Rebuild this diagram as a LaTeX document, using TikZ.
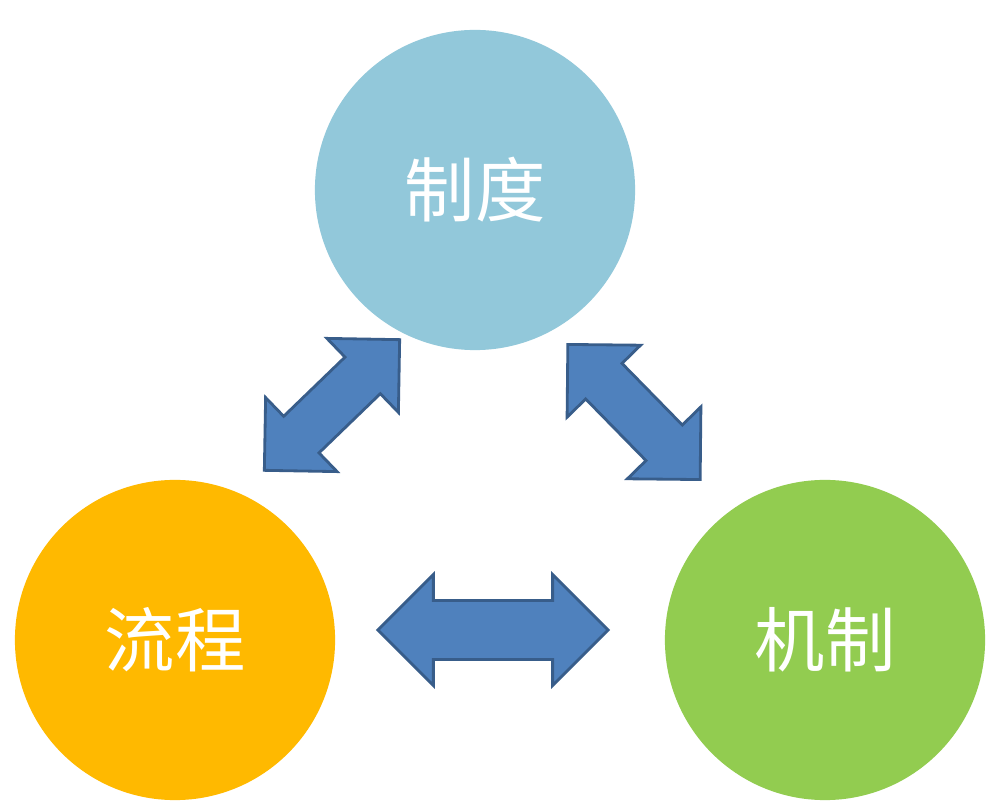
\documentclass[tikz,border=0pt]{standalone}
\usepackage{fontspec}
\newfontfamily\cjk{Noto Sans CJK SC}
\usetikzlibrary{shapes.arrows}
\begin{document}
\begin{tikzpicture}[x=0.01cm,y=-0.01cm]
    \definecolor{zd_blue}{RGB}{146,200,218}
    \definecolor{lc_orange}{RGB}{255,185,0}
    \definecolor{jz_green}{RGB}{146,204,80}
    \definecolor{arrow_fill}{RGB}{79,129,189}
    \definecolor{arrow_line}{RGB}{56,93,138}
    \tikzset{
        ball/.style={shape=circle,minimum size=3.2cm,inner sep=0pt,text=white,font=\cjk\fontsize{20}{24}\selectfont},
        link/.style={shape=double arrow,draw=arrow_line,fill=arrow_fill,line width=0.8pt,inner sep=0pt,double arrow head extend=0.26cm}
    }
    \useasboundingbox (0,0) rectangle (1000,810);
    \fill[white] (0,0) rectangle (1000,810);
    \node[ball,fill=zd_blue] (zhidu) at (475,190) {制度};
    \node[ball,fill=lc_orange] (liucheng) at (175,640) {流程};
    \node[ball,fill=jz_green] (jizhi) at (825,640) {机制};
    \node[link,minimum height=2.3cm] (bottomlink) at (493,630) {\rule{0pt}{0.56cm}};
    \node[link,minimum height=1.88cm,rotate=44] (leftlink) at (332,405) {\rule{0pt}{0.48cm}};
    \node[link,minimum height=1.89cm,rotate=-45.6] (rightlink) at (634,412) {\rule{0pt}{0.48cm}};
\end{tikzpicture}
\end{document}
